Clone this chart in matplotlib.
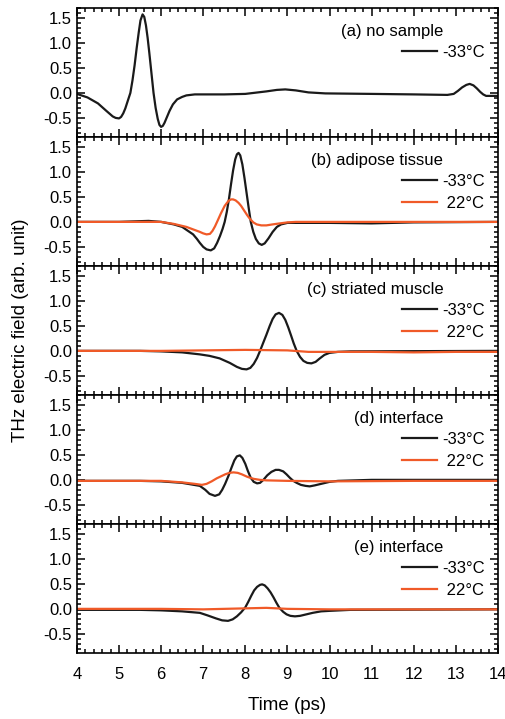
import matplotlib
matplotlib.use('Agg')
import matplotlib.pyplot as plt
from matplotlib.ticker import MultipleLocator

plt.rcParams['font.family'] = ['Liberation Sans', 'DejaVu Sans']

BLACK = '#1a1a1a'
ORANGE = '#f05a28'

# (a) no sample, -33 C
ta_cold = [4.0, 4.25, 4.5, 4.7, 4.85, 4.92, 5.0, 5.05, 5.1, 5.15, 5.2, 5.27, 5.32, 5.37, 5.42,
           5.47, 5.51, 5.56, 5.6, 5.64, 5.68, 5.72, 5.77, 5.82, 5.87, 5.92, 5.96, 6.0, 6.04,
           6.08, 6.14, 6.2, 6.28, 6.38, 6.5, 6.6, 6.8, 7.5, 8.0, 8.2, 8.5, 8.75, 8.95, 9.2,
           9.5, 9.9, 11.0, 12.0, 12.8, 12.95, 13.05, 13.15, 13.25, 13.33, 13.42, 13.5, 13.58,
           13.65, 13.72, 13.8, 14.0]
va_cold = [-0.02, -0.09, -0.21, -0.36, -0.47, -0.50, -0.51, -0.48, -0.41, -0.31, -0.18, 0.0, 0.25, 0.55, 0.90,
           1.22, 1.45, 1.57, 1.52, 1.35, 1.10, 0.80, 0.40, 0.0, -0.30, -0.52, -0.64, -0.68, -0.66,
           -0.60, -0.48, -0.36, -0.23, -0.13, -0.08, -0.05, -0.03, -0.03, -0.02, 0.0, 0.03, 0.06, 0.07, 0.05,
           0.01, -0.01, -0.02, -0.03, -0.04, -0.02, 0.04, 0.11, 0.16, 0.18, 0.15, 0.09, 0.02,
           -0.03, -0.06, -0.06, -0.06]

# (b) adipose tissue
tb_cold = [4.0, 5.0, 5.7, 6.0, 6.3, 6.5, 6.76, 6.85, 6.92, 7.0, 7.08, 7.18, 7.26, 7.33, 7.4,
           7.46, 7.51, 7.56, 7.61, 7.66, 7.71, 7.76, 7.8, 7.84, 7.88, 7.93, 7.98, 8.03, 8.08,
           8.13, 8.19, 8.25, 8.32, 8.39, 8.46, 8.55, 8.65, 8.75, 8.85, 9.0, 10.0, 11.0, 12.0, 14.0]
vb_cold = [0.0, 0.0, 0.02, 0.0, -0.05, -0.10, -0.25, -0.34, -0.42, -0.50, -0.55, -0.57, -0.53, -0.42, -0.28,
           -0.14, 0.0, 0.20, 0.45, 0.75, 1.03, 1.25, 1.35, 1.38, 1.33, 1.15, 0.88, 0.58, 0.28,
           0.0, -0.20, -0.34, -0.43, -0.46, -0.43, -0.33, -0.20, -0.10, -0.05, -0.02, -0.02, -0.03, -0.01, 0.0]
tb_warm = [4.0, 6.0, 6.3, 6.6, 6.92, 7.0, 7.08, 7.16, 7.22, 7.28, 7.34, 7.42, 7.51, 7.6, 7.66,
           7.71, 7.77, 7.84, 7.9, 7.97, 8.04, 8.11, 8.19, 8.27, 8.38, 8.5, 8.65, 8.82, 9.0, 9.2, 14.0]
vb_warm = [0.0, 0.0, -0.04, -0.10, -0.20, -0.23, -0.25, -0.24, -0.18, -0.09, 0.02, 0.17, 0.32, 0.42, 0.45,
           0.45, 0.43, 0.38, 0.32, 0.23, 0.14, 0.06, -0.01, -0.05, -0.07, -0.07, -0.05, -0.03, -0.01, 0.0, 0.0]

# (c) striated muscle
tc_cold = [4.0, 5.5, 6.0, 6.5, 6.92, 7.15, 7.39, 7.63, 7.8, 7.92, 8.03, 8.12, 8.2, 8.28, 8.35,
           8.42, 8.5, 8.58, 8.65, 8.72, 8.8, 8.88, 8.95, 9.02, 9.09, 9.15, 9.22, 9.3, 9.38,
           9.47, 9.57, 9.67, 9.77, 9.88, 10.0, 10.2, 10.5, 14.0]
vc_cold = [0.0, 0.0, -0.01, -0.03, -0.07, -0.10, -0.15, -0.24, -0.32, -0.36, -0.37, -0.34, -0.26, -0.14, 0.0,
           0.15, 0.32, 0.50, 0.64, 0.73, 0.76, 0.72, 0.62, 0.47, 0.30, 0.15, 0.0, -0.12, -0.20,
           -0.24, -0.25, -0.22, -0.15, -0.08, -0.04, -0.02, -0.01, 0.0]
tc_warm = [4.0, 6.0, 7.0, 8.0, 9.0, 9.5, 10.0, 11.0, 12.0, 13.0, 14.0]
vc_warm = [0.0, 0.0, 0.01, 0.02, 0.01, -0.02, -0.02, -0.02, -0.03, -0.02, -0.02]

# (d) interface
td_cold = [4.0, 5.5, 6.0, 6.5, 6.92, 7.05, 7.15, 7.28, 7.38, 7.45, 7.52, 7.6, 7.67, 7.74, 7.8,
           7.87, 7.93, 8.0, 8.06, 8.13, 8.2, 8.28, 8.35, 8.43, 8.52, 8.62, 8.72, 8.8, 8.9,
           8.98, 9.06, 9.14, 9.22, 9.32, 9.43, 9.53, 9.65, 9.8, 10.0, 10.2, 11.0, 14.0]
vd_cold = [-0.02, -0.02, -0.03, -0.06, -0.12, -0.20, -0.28, -0.32, -0.29, -0.20, -0.08, 0.08, 0.24, 0.39, 0.47,
           0.49, 0.44, 0.32, 0.18, 0.04, -0.04, -0.07, -0.06, 0.0, 0.09, 0.16, 0.20, 0.20, 0.17,
           0.11, 0.04, -0.02, -0.06, -0.10, -0.12, -0.13, -0.11, -0.08, -0.04, -0.02, 0.0, 0.0]
td_warm = [4.0, 6.0, 6.5, 6.8, 6.97, 7.08, 7.2, 7.32, 7.42, 7.52, 7.62, 7.72, 7.82, 7.92, 8.05,
           8.2, 8.35, 8.5, 9.0, 10.0, 12.0, 14.0]
vd_warm = [-0.02, -0.02, -0.05, -0.08, -0.10, -0.08, -0.03, 0.03, 0.07, 0.11, 0.14, 0.15, 0.14, 0.11, 0.06,
           0.02, 0.0, -0.01, -0.02, -0.03, -0.02, -0.02]

# (e) interface
te_cold = [4.0, 5.5, 6.0, 6.5, 6.92, 7.1, 7.3, 7.45, 7.59, 7.7, 7.8, 7.9, 8.0, 8.07, 8.14,
           8.21, 8.28, 8.35, 8.4, 8.46, 8.53, 8.6, 8.67, 8.74, 8.81, 8.9, 8.98, 9.07, 9.18,
           9.3, 9.45, 9.6, 9.8, 10.0, 10.5, 14.0]
ve_cold = [-0.02, -0.02, -0.03, -0.05, -0.08, -0.13, -0.19, -0.23, -0.24, -0.21, -0.15, -0.07, 0.03, 0.14, 0.26,
           0.37, 0.44, 0.48, 0.49, 0.47, 0.41, 0.33, 0.23, 0.12, 0.02, -0.06, -0.11, -0.14, -0.15,
           -0.14, -0.11, -0.08, -0.05, -0.04, -0.02, -0.01]
te_warm = [4.0, 6.0, 7.0, 8.0, 8.5, 9.0, 10.0, 14.0]
ve_warm = [0.0, 0.0, -0.01, 0.01, 0.02, 0.0, -0.01, -0.01]

panels = [
    ('(a) no sample', (ta_cold, va_cold), None),
    ('(b) adipose tissue', (tb_cold, vb_cold), (tb_warm, vb_warm)),
    ('(c) striated muscle', (tc_cold, vc_cold), (tc_warm, vc_warm)),
    ('(d) interface', (td_cold, vd_cold), (td_warm, vd_warm)),
    ('(e) interface', (te_cold, ve_cold), (te_warm, ve_warm)),
]

fig = plt.figure(figsize=(5.06, 7.19), dpi=100)
left, right = 0.152, 0.984
top, bottom = 0.989, 0.092
h = (top - bottom) / 5

for i, (title, cold, warm) in enumerate(panels):
    ax = fig.add_axes([left, top - (i + 1) * h, right - left, h])
    ax.plot(cold[0], cold[1], color=BLACK, lw=1.6, label='-33\u00b0C')
    if warm is not None:
        ax.plot(warm[0], warm[1], color=ORANGE, lw=1.6, label=' 22\u00b0C')
    ax.set_xlim(4, 14)
    ax.set_ylim(-0.88, 1.7)
    ax.xaxis.set_major_locator(MultipleLocator(1))
    ax.xaxis.set_minor_locator(MultipleLocator(0.2))
    ax.yaxis.set_minor_locator(MultipleLocator(0.1))
    ax.set_yticks([-0.5, 0.0, 0.5, 1.0, 1.5])
    ax.set_yticklabels(['-0.5', '0.0', '0.5', '1.0', '1.5'])
    ax.tick_params(which='both', direction='in', top=True, right=True, labelsize=12, width=1.1)
    ax.tick_params(which='major', length=6)
    ax.tick_params(which='minor', length=3)
    ax.tick_params(axis='x', pad=10)
    for s in ax.spines.values():
        s.set_linewidth(1.2)
    if i < 4:
        ax.tick_params(labelbottom=False)
    else:
        ax.set_xlabel('Time (ps)', fontsize=13.5, labelpad=11)
    ax.text(0.87, 0.82, title, transform=ax.transAxes, ha='right', va='center', fontsize=12)
    ax.legend(loc='upper right', bbox_to_anchor=(1.0, 0.815), frameon=False, fontsize=12,
              handlelength=2.1, handletextpad=0.3, labelspacing=0.4, borderpad=0.3)

fig.text(0.04, (top + bottom) / 2, 'THz electric field (arb. unit)', rotation=90,
         ha='center', va='center', fontsize=13.5)

fig.savefig('out.png', dpi=100)
